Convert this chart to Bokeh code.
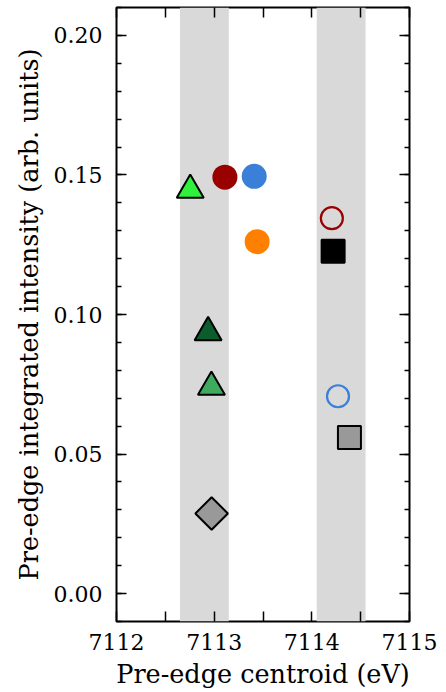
from bokeh.plotting import figure
from bokeh.models import (LinearAxis, Range1d, FixedTicker, BoxAnnotation, PrintfTickFormatter,
                          CustomLabelingPolicy)
from bokeh.embed import file_html
from bokeh.resources import INLINE
import math

# ---- data ----
band_left = [7112.65, 7114.05]
band_right = [7113.15, 7114.55]

circ_x = [7113.11, 7113.41, 7113.44]
circ_y = [0.1492, 0.1495, 0.1261]
circ_c = ["#990000", "#3a80d9", "#ff8000"]

open_x = [7114.205, 7114.268]
open_y = [0.1345, 0.0707]
open_c = ["#990000", "#3a80d9"]

tri_x = [7112.755, 7112.938, 7112.972]
tri_y = [0.1446, 0.0936, 0.0740]
tri_c = ["#2ff03c", "#0b5e2b", "#3eab5e"]

sq_x = [7114.218, 7114.385]
sq_y = [0.1227, 0.0559]
sq_c = ["#000000", "#999999"]

dia_x = [7112.974]
dia_y = [0.0287]
dia_c = ["#999999"]

x_major = [7112, 7113, 7114, 7115]
x_minor = [7112.5, 7113.5, 7114.5]
y_major = [0.00, 0.05, 0.10, 0.15, 0.20]
y_minor = [round(-0.01 + 0.01 * i, 2) for i in range(23)]

FONT = "DejaVu Serif"
TICK_FS = "22px"
LABEL_FS = "25.5px"

p = figure(width=446, height=692, x_range=Range1d(7112, 7115), y_range=Range1d(-0.01, 0.21),
           output_backend="svg", toolbar_location=None,
           x_axis_location=None, y_axis_location=None,
           min_border_left=116, min_border_right=37, min_border_top=7, min_border_bottom=71)
p.xgrid.visible = False
p.ygrid.visible = False
p.outline_line_color = "black"
p.outline_line_width = 2
p.background_fill_color = "white"
p.border_fill_color = "white"

for l, r in zip(band_left, band_right):
    p.add_layout(BoxAnnotation(left=l, right=r, fill_color="#d9d9d9", fill_alpha=1.0,
                               line_color=None, level="underlay"))

bottom = LinearAxis()
left = LinearAxis()
top = LinearAxis()
right = LinearAxis()
p.add_layout(bottom, "below")
p.add_layout(left, "left")
p.add_layout(top, "above")
p.add_layout(right, "right")

hide_all = CustomLabelingPolicy(code="""
    for (const i of Array.from(indices)) { indices.unset(i) }
    return indices
""")


def style(ax, xaxis, labels):
    ax.axis_line_color = None
    ax.major_tick_in = 10
    ax.major_tick_out = 0
    ax.minor_tick_in = 10 if xaxis else 5
    ax.minor_tick_out = 0
    ax.major_tick_line_width = 1.5
    ax.minor_tick_line_width = 1.5
    ax.major_tick_line_color = "black"
    ax.minor_tick_line_color = "black"
    if xaxis:
        ax.ticker = FixedTicker(ticks=x_major, minor_ticks=x_minor)
        ax.formatter = PrintfTickFormatter(format="%d")
    else:
        ax.ticker = FixedTicker(ticks=y_major, minor_ticks=y_minor)
        ax.formatter = PrintfTickFormatter(format="%.2f")
    ax.major_label_text_font = FONT
    ax.major_label_text_font_size = TICK_FS
    ax.axis_label_text_font = FONT
    ax.axis_label_text_font_style = "normal"
    ax.axis_label_text_font_size = LABEL_FS
    ax.major_label_text_color = "black"
    ax.axis_label_text_color = "black"
    if not labels:
        ax.major_label_policy = hide_all
        ax.major_label_text_font_size = "1px"
        ax.major_label_standoff = 0
        ax.axis_label_standoff = 0


style(bottom, True, True)
style(left, False, True)
style(top, True, False)
style(right, False, False)

bottom.axis_label = "Pre-edge centroid (eV)"
bottom.major_label_standoff = 12
bottom.axis_label_standoff = 6
left.axis_label = "Pre-edge integrated intensity (arb. units)"
left.major_label_standoff = 14
left.axis_label_standoff = 7

p.scatter(circ_x, circ_y, marker="circle", size=25, fill_color=circ_c, line_color=circ_c, line_width=0)
p.scatter(open_x, open_y, marker="circle", size=22, fill_color=None, line_color=open_c, line_width=2.2)
p.scatter(tri_x, tri_y, marker="triangle", size=27, fill_color=tri_c, line_color="black", line_width=2)
p.scatter(sq_x, sq_y, marker="square", size=23, fill_color=sq_c, line_color="black", line_width=2)
p.scatter(dia_x, dia_y, marker="square", size=23, angle=math.pi / 4, fill_color=dia_c,
          line_color="black", line_width=2)

open("out.html", "w").write(file_html(p, INLINE))
